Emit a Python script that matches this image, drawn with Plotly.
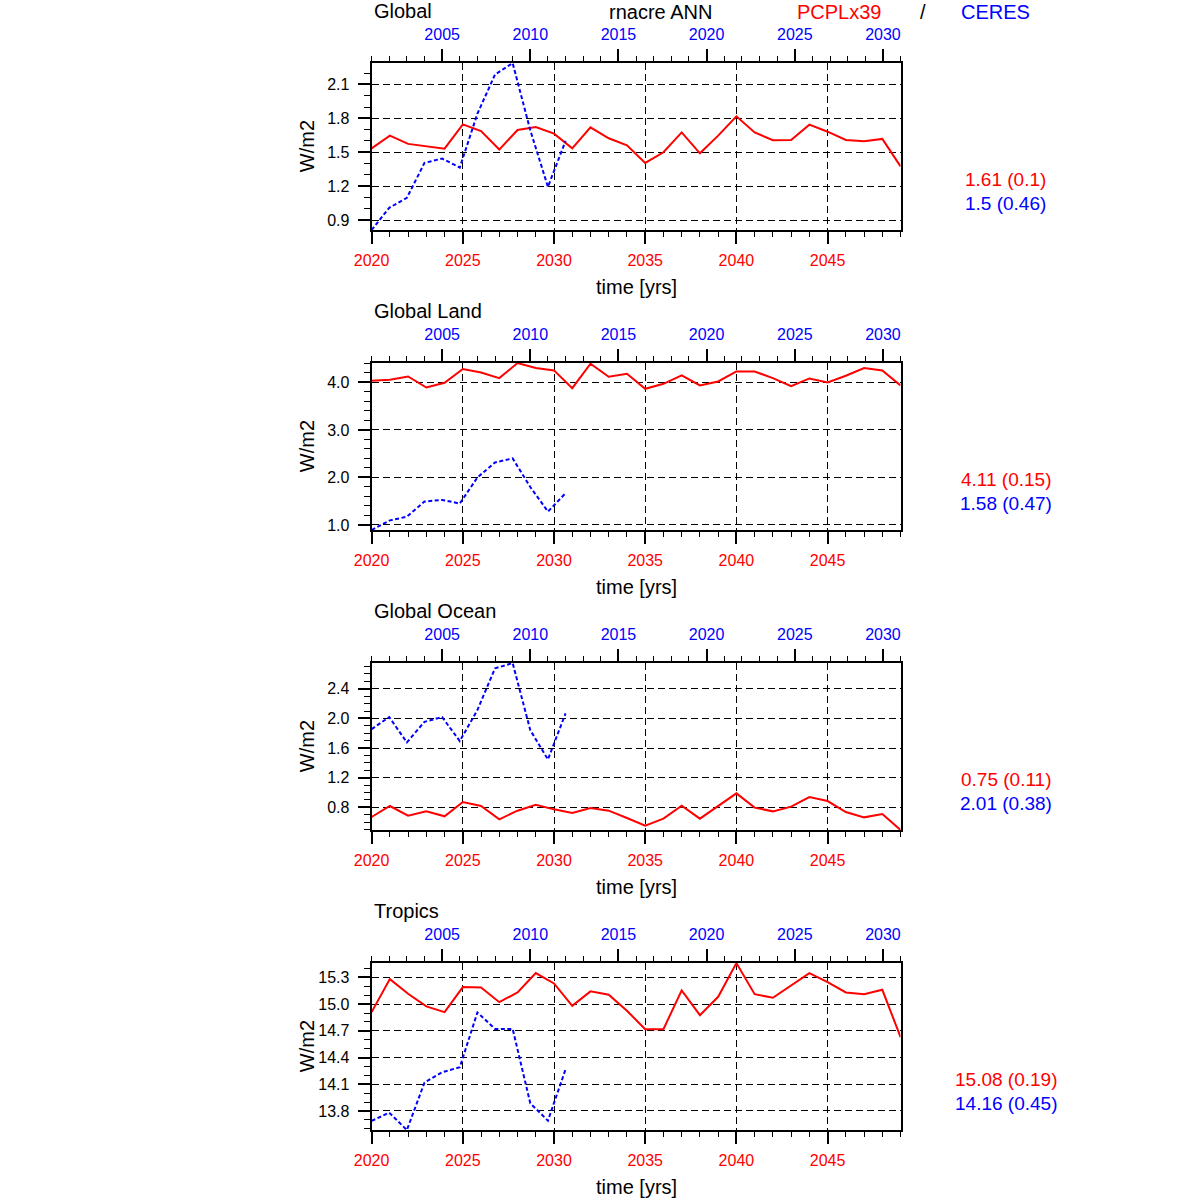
import plotly.graph_objects as go

# ---------------- data ----------------
years_model = list(range(2020, 2050))   # PCPLx39 (bottom axis)
years_obs = list(range(2001, 2013))     # CERES (top axis)

regions = ["Global", "Global Land", "Global Ocean", "Tropics"]

model_global = [1.535, 1.647, 1.574, 1.556, 1.532, 1.747, 1.688, 1.524, 1.697, 1.724,
                1.665, 1.535, 1.720, 1.624, 1.562, 1.406, 1.500, 1.676, 1.491, 1.647,
                1.818, 1.676, 1.606, 1.609, 1.744, 1.682, 1.609, 1.597, 1.618, 1.374]
obs_global = [0.812, 1.009, 1.097, 1.406, 1.444, 1.365, 1.841, 2.188, 2.289, 1.694, 1.194, 1.600]

model_land = [4.035, 4.056, 4.127, 3.894, 3.993, 4.282, 4.211, 4.092, 4.408, 4.303,
              4.254, 3.880, 4.394, 4.120, 4.183, 3.866, 3.972, 4.148, 3.937, 4.021,
              4.232, 4.232, 4.092, 3.923, 4.085, 4.000, 4.141, 4.303, 4.254, 3.937]
obs_land = [0.894, 1.092, 1.176, 1.493, 1.528, 1.451, 2.000, 2.317, 2.401, 1.800, 1.282, 1.669]

model_ocean = [0.670, 0.818, 0.688, 0.746, 0.679, 0.872, 0.818, 0.638, 0.755, 0.836,
               0.773, 0.724, 0.791, 0.755, 0.656, 0.553, 0.647, 0.822, 0.647, 0.822,
               0.989, 0.796, 0.746, 0.809, 0.939, 0.885, 0.737, 0.665, 0.710, 0.494]
obs_ocean = [1.856, 2.018, 1.676, 1.955, 2.018, 1.694, 2.113, 2.676, 2.747, 1.842, 1.446, 2.068]

model_trop = [14.910, 15.281, 15.116, 14.974, 14.910, 15.191, 15.188, 15.022, 15.131, 15.349,
              15.232, 14.981, 15.143, 15.105, 14.925, 14.719, 14.719, 15.154, 14.876, 15.082,
              15.461, 15.112, 15.071, 15.206, 15.349, 15.247, 15.131, 15.112, 15.161, 14.629]
obs_trop = [13.688, 13.781, 13.586, 14.119, 14.235, 14.291, 14.906, 14.722, 14.722, 13.886, 13.691, 14.268]

model_series = [model_global, model_land, model_ocean, model_trop]
obs_series = [obs_global, obs_land, obs_ocean, obs_trop]

stats_model = ["1.61 (0.1)", "4.11 (0.15)", "0.75 (0.11)", "15.08 (0.19)"]
stats_obs = ["1.5 (0.46)", "1.58 (0.47)", "2.01 (0.38)", "14.16 (0.45)"]

# ---------------- styling / layout ----------------
W = H = 1200
FONT = "Liberation Sans, Arial, Helvetica, sans-serif"
RED = "#ff0000"
BLUE = "#0000ff"
ymajor = [0.3, 1.0, 0.4, 0.3]
yminor = [0.1, 0.2, 0.1, 0.1]

PL, PR = 359, 896          # plot left/right in px
TOP0, HGT, STEP = 63.3, 167.5, 301


def px(x):
    return x / W


def py(y):
    return 1 - y / H


fig = go.Figure()
annotations = []

for i in range(4):
    xb = "x%d" % (2 * i + 1)
    xt = "x%d" % (2 * i + 2)
    yy = "y%d" % (i + 1)
    top = TOP0 + STEP * i
    bot = top + HGT
    allv = model_series[i] + obs_series[i]
    yr = [min(allv), max(allv)]

    fig.add_trace(go.Scatter(x=years_model, y=model_series[i], mode="lines",
                             line=dict(color=RED, width=2), xaxis=xb, yaxis=yy,
                             showlegend=False, hoverinfo="skip"))
    fig.add_trace(go.Scatter(x=years_obs, y=obs_series[i], mode="lines",
                             line=dict(color=BLUE, width=2, dash="4px,2.5px"),
                             xaxis=xt, yaxis=yy, showlegend=False, hoverinfo="skip"))

    axb = dict(domain=[px(PL), px(PR)], anchor=yy, range=[2020, 2049],
               tick0=2020, dtick=5, ticks="outside", ticklen=12, tickwidth=1.5,
               tickcolor="black", showline=True, linecolor="black", linewidth=2,
               mirror=False, showgrid=True, gridcolor="black", gridwidth=1,
               griddash="7px,4px", zeroline=False,
               tickfont=dict(family=FONT, size=16, color=RED),
               ticklabelstandoff=3,
               minor=dict(dtick=1, tick0=2020, ticks="outside", ticklen=5,
                          tickcolor="black", tickwidth=1, showgrid=False))
    axt = dict(overlaying=xb, anchor=yy, side="top", range=[2001, 2031],
               tick0=2000, dtick=5, ticks="outside", ticklen=12, tickwidth=1.5,
               tickcolor="black", showline=True, linecolor="black", linewidth=2,
               showgrid=False, zeroline=False,
               tickfont=dict(family=FONT, size=16, color=BLUE),
               ticklabelstandoff=3,
               minor=dict(dtick=1, tick0=2000, ticks="outside", ticklen=5,
                          tickcolor="black", tickwidth=1, showgrid=False))
    ay = dict(domain=[py(bot), py(top)], anchor=xb, range=yr,
              tick0=0, dtick=ymajor[i], tickformat=".1f", ticks="outside",
              ticklen=12, tickwidth=1.5, tickcolor="black",
              showline=True, linecolor="black", linewidth=2, mirror=True,
              showgrid=True, gridcolor="black", gridwidth=1, griddash="7px,4px",
              zeroline=False, tickfont=dict(family=FONT, size=16, color="black"),
              ticklabelstandoff=5,
              minor=dict(dtick=yminor[i], tick0=0, ticks="outside", ticklen=6,
                         tickcolor="black", tickwidth=1, showgrid=False))
    fig.update_layout({("xaxis" if i == 0 else "xaxis%d" % (2 * i + 1)): axb,
                       "xaxis%d" % (2 * i + 2): axt,
                       ("yaxis" if i == 0 else "yaxis%d" % (i + 1)): ay})

    # region title
    annotations.append(dict(text=regions[i], x=px(PL), y=py(top - 52), xref="paper",
                            yref="paper", xanchor="left", yanchor="middle",
                            showarrow=False, font=dict(family=FONT, size=20, color="black")))
    # y title
    annotations.append(dict(text="W/m2", x=px(293), y=py((top + bot) / 2), xref="paper",
                            yref="paper", xanchor="center", yanchor="middle", textangle=-90,
                            showarrow=False, font=dict(family=FONT, size=20, color="black")))
    # x title
    annotations.append(dict(text="time [yrs]", x=px((PL + PR) / 2), y=py(bot + 57),
                            xref="paper", yref="paper", xanchor="center", yanchor="middle",
                            showarrow=False, font=dict(family=FONT, size=20, color="black")))
    # stats
    annotations.append(dict(text=stats_model[i], x=px(1003), y=py(top + 116.5), xref="paper",
                            yref="paper", xanchor="center", yanchor="middle",
                            showarrow=False, font=dict(family=FONT, size=19, color=RED)))
    annotations.append(dict(text=stats_obs[i], x=px(1003), y=py(top + 140.5), xref="paper",
                            yref="paper", xanchor="center", yanchor="middle",
                            showarrow=False, font=dict(family=FONT, size=19, color=BLUE)))

# main header
for txt, xc, col in [("rnacre ANN", 652, "black"), ("PCPLx39", 834, RED),
                     ("/", 918.5, "black"), ("CERES", 992, BLUE)]:
    annotations.append(dict(text=txt, x=px(xc), y=py(12), xref="paper", yref="paper",
                            xanchor="center", yanchor="middle", showarrow=False,
                            font=dict(family=FONT, size=20, color=col)))

fig.update_layout(width=W, height=H, autosize=False,
                  margin=dict(l=0, r=0, t=0, b=0),
                  paper_bgcolor="white", plot_bgcolor="white",
                  font=dict(family=FONT),
                  annotations=annotations)

fig.write_html("out.html",
               config={"displayModeBar": False},
               post_script="document.body.style.margin='0';"
                           "document.body.style.overflow='hidden';")
